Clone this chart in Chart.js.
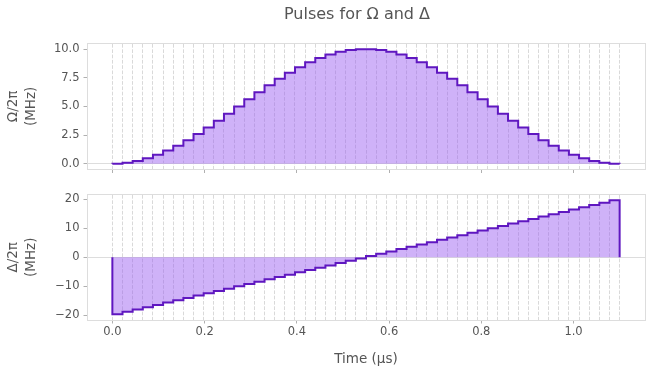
<!DOCTYPE html>
<html>
<head>
<meta charset="utf-8">
<script src="https://cdn.jsdelivr.net/npm/chart.js@4.4.1/dist/chart.umd.min.js"></script>
<style>
html,body{margin:0;padding:0;background:#fff;overflow:hidden}
#wrap{position:relative;width:651px;height:376px;overflow:hidden}
#wrap canvas{position:absolute;left:0;top:0}
</style>
</head>
<body>
<div id="wrap">
<canvas id="c1" width="714" height="376"></canvas>
<canvas id="c2" width="651" height="376"></canvas>
</div>
<script>
// Step edges of the piecewise-constant pulses (µs)
const timeEdges = [0.000, 0.022, 0.044, 0.066, 0.088, 0.110, 0.132, 0.154, 0.176, 0.198,
  0.220, 0.242, 0.264, 0.286, 0.308, 0.330, 0.352, 0.374, 0.396, 0.418,
  0.440, 0.462, 0.484, 0.506, 0.528, 0.550, 0.572, 0.594, 0.616, 0.638,
  0.660, 0.682, 0.704, 0.726, 0.748, 0.770, 0.792, 0.814, 0.836, 0.858,
  0.880, 0.902, 0.924, 0.946, 0.968, 0.990, 1.012, 1.034, 1.056, 1.078, 1.100];

// Ω/2π (MHz), one value per step
const omega = [0.01, 0.09, 0.25, 0.48, 0.78, 1.15, 1.58, 2.06, 2.59, 3.16,
  3.76, 4.37, 5.00, 5.63, 6.24, 6.84, 7.41, 7.94, 8.42, 8.85,
  9.22, 9.52, 9.76, 9.91, 9.99, 9.99, 9.91, 9.76, 9.52, 9.22,
  8.85, 8.42, 7.94, 7.41, 6.84, 6.24, 5.63, 5.00, 4.37, 3.76,
  3.16, 2.59, 2.06, 1.58, 1.15, 0.78, 0.48, 0.25, 0.09, 0.01];

// Δ/2π (MHz), one value per step
const delta = [-19.6, -18.8, -18.0, -17.2, -16.4, -15.6, -14.8, -14.0, -13.2, -12.4,
  -11.6, -10.8, -10.0, -9.2, -8.4, -7.6, -6.8, -6.0, -5.2, -4.4,
  -3.6, -2.8, -2.0, -1.2, -0.4, 0.4, 1.2, 2.0, 2.8, 3.6,
  4.4, 5.2, 6.0, 6.8, 7.6, 8.4, 9.2, 10.0, 10.8, 11.6,
  12.4, 13.2, 14.0, 14.8, 15.6, 16.4, 17.2, 18.0, 18.8, 19.6];

const xTicks = [0, 0.2, 0.4, 0.6, 0.8, 1.0];
const omegaTicks = [0, 2.5, 5, 7.5, 10];
const deltaTicks = [-20, -10, 0, 10, 20];

const TEXT = '#555555', BORDER = '#dddddd', DASH = '#d9d9d9', TICKC = '#b0b0b0';
const LINE = '#5f17c0', FILL = 'rgba(155,95,240,0.48)';

Chart.defaults.font.family = "'DejaVu Sans', sans-serif";
Chart.defaults.color = TEXT;

function stairs(vals) {
  const pts = [{x: timeEdges[0], y: 0}];
  vals.forEach((v, i) => pts.push({x: timeEdges[i], y: v}));
  pts.push({x: timeEdges[vals.length], y: vals[vals.length - 1]});
  pts.push({x: timeEdges[vals.length], y: 0});
  return pts;
}

function dataset(vals) {
  return {data: stairs(vals), stepped: true, borderColor: LINE, borderWidth: 2,
    backgroundColor: FILL, fill: 'origin', pointRadius: 0, tension: 0};
}

function scales(cfg) {
  return {
    x: {type: 'linear', position: 'bottom', min: -0.055, max: 1.155,
      afterBuildTicks: s => { s.ticks = xTicks.map(v => ({value: v})); },
      afterFit: s => { if (cfg.xHeight) s.height = cfg.xHeight; },
      grid: {drawOnChartArea: false, drawTicks: true, tickLength: 3.5, tickColor: TICKC, tickWidth: 1},
      border: {color: BORDER, width: 1},
      ticks: {display: cfg.showX, padding: 1.6, color: TEXT, font: {size: 11.5},
        callback: v => v.toFixed(1), maxRotation: 0, autoSkip: false},
      title: {display: cfg.showX, text: 'Time (µs)', color: TEXT, font: {size: 13.5},
        padding: {top: 4, bottom: 8}}
    },
    x2: {type: 'linear', position: 'top', min: -0.055, max: 1.155,
      afterBuildTicks: s => { s.ticks = timeEdges.map(v => ({value: v})); },
      grid: {drawOnChartArea: true, drawTicks: false, color: DASH, lineWidth: 1},
      border: {display: true, color: BORDER, width: 1, dash: [3.7, 1.6]},
      ticks: {display: false}
    },
    y: {type: 'linear', position: 'left', min: cfg.ymin, max: cfg.ymax,
      afterBuildTicks: s => { s.ticks = cfg.yTicks.map(v => ({value: v})); },
      afterFit: s => { s.width = 87; },
      grid: {color: c => (c.tick && c.tick.value === 0) ? BORDER : 'rgba(0,0,0,0)',
        tickColor: TICKC, tickLength: 3.5, drawTicks: true},
      border: {color: BORDER, width: 1},
      ticks: {color: TEXT, font: {size: 11.5}, padding: 4, callback: cfg.yFmt},
      title: {display: true, text: cfg.yTitle, color: TEXT, font: {size: 13.5, lineHeight: 1.31},
        padding: {top: 4.5, bottom: 0}}
    },
    y2: {type: 'linear', position: 'right', min: cfg.ymin, max: cfg.ymax,
      afterFit: s => { s.width = cfg.rightWidth; },
      grid: {display: false, drawTicks: false}, ticks: {display: false},
      border: {display: true, color: BORDER, width: 1}
    }
  };
}

new Chart(document.getElementById('c1'), {
  type: 'line',
  data: {datasets: [dataset(omega)]},
  options: {
    responsive: false, animation: false,
    layout: {padding: {left: 0, right: 0, top: 0, bottom: 203}},
    plugins: {
      legend: {display: false}, tooltip: {enabled: false},
      title: {display: true, text: 'Pulses for Ω and Δ', color: TEXT,
        font: {size: 16, weight: 'normal'}, padding: {top: 5.4, bottom: 18.7}}
    },
    scales: scales({showX: false, ymin: -0.5, ymax: 10.5, yTicks: omegaTicks,
      yFmt: v => v.toFixed(1), rightWidth: 69, yTitle: ['Ω/2π', '(MHz)']})
  }
});

new Chart(document.getElementById('c2'), {
  type: 'line',
  data: {datasets: [dataset(delta)]},
  options: {
    responsive: false, animation: false,
    layout: {padding: {left: 0, right: 0, top: 194.5, bottom: 0}},
    plugins: {legend: {display: false}, tooltip: {enabled: false}},
    scales: scales({showX: true, xHeight: 56, ymin: -21.6, ymax: 21.6, yTicks: deltaTicks,
      yFmt: v => (v < 0 ? '\u2212' + Math.abs(v) : String(v)), rightWidth: 6,
      yTitle: ['Δ/2π', '(MHz)']})
  }
});
</script>
</body>
</html>
